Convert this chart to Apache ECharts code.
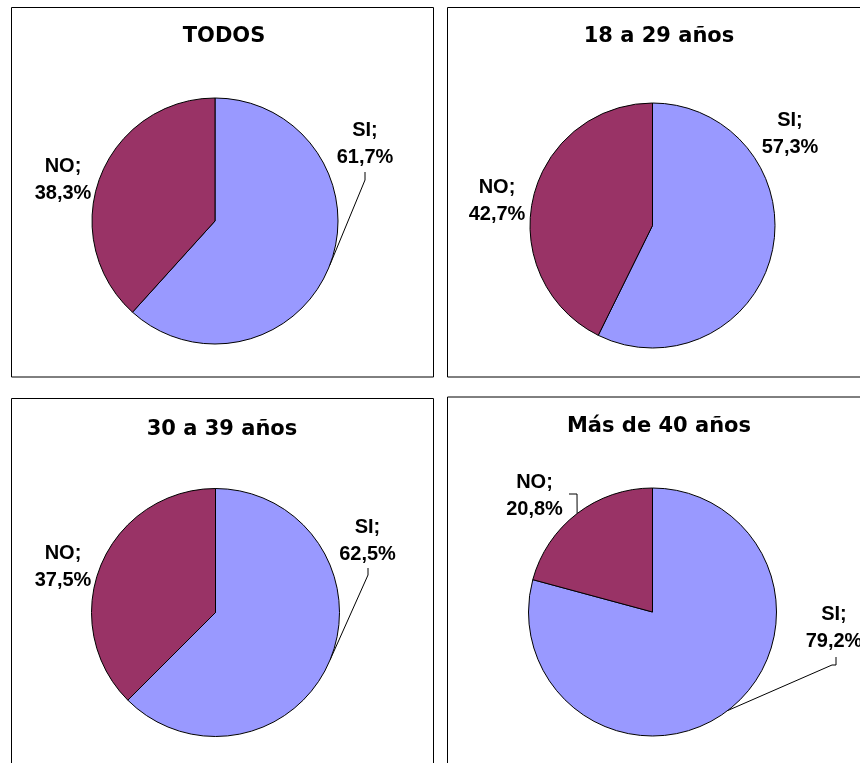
<!DOCTYPE html>
<html>
<head>
<meta charset="utf-8">
<script src="https://cdn.jsdelivr.net/npm/echarts@6/dist/echarts.min.js"></script>
<style>
  html, body { margin: 0; padding: 0; background: #ffffff; }
  #chart { width: 860px; height: 763px; }
</style>
</head>
<body>
<div id="chart"></div>
<script>
// Survey answers (percent) for each age group
const groups = ['TODOS', '18 a 29 años', '30 a 39 años', 'Más de 40 años'];
const answers = ['SI', 'NO'];
const siValues = [61.7, 57.3, 62.5, 79.2];
const noValues = [38.3, 42.7, 37.5, 20.8];

const answerColors = { SI: '#9999FF', NO: '#993366' };

// Panel layout: frame, pie placement, title anchor and label anchors.
// "hook" lists the bend points of a leader line, ending at the label.
const panels = [
  {
    box: [11.5, 7.5, 422, 369.5], center: [215, 221], radius: 123, title: [224, 36.5],
    labels: {
      SI: { pos: [365, 143.5], hook: [[365, 180], [365, 172]] },
      NO: { pos: [63, 179.5], hook: null }
    }
  },
  {
    box: [447.5, 7.5, 430, 369.5], center: [652.5, 225.5], radius: 122.5, title: [659, 36.5],
    labels: {
      SI: { pos: [790, 134], hook: null },
      NO: { pos: [497, 201], hook: null }
    }
  },
  {
    box: [11.5, 398.5, 422, 400], center: [215.5, 612.5], radius: 124, title: [222, 429.5],
    labels: {
      SI: { pos: [367.5, 540.5], hook: [[368, 575], [368, 568]] },
      NO: { pos: [63, 567], hook: null }
    }
  },
  {
    box: [447.5, 397, 430, 400], center: [652.5, 612], radius: 124, title: [659, 426.5],
    labels: {
      SI: { pos: [834, 627.5], hook: [[832, 665], [836, 665], [836, 657]] },
      NO: { pos: [534.5, 496], hook: [[577, 494], [569, 494]] }
    }
  }
];

const valuesByAnswer = { SI: siValues, NO: noValues };

function pct(v) {
  return v.toFixed(1).replace('.', ',') + '%';
}

const chart = echarts.init(document.getElementById('chart'), null, { renderer: 'canvas' });

const titles = panels.map((p, i) => ({
  text: groups[i],
  left: p.title[0],
  top: p.title[1] - 12,
  textAlign: 'center',
  padding: 0,
  textStyle: {
    fontFamily: 'DejaVu Sans',
    fontWeight: 'bold',
    fontSize: 21,
    color: '#000000',
    lineHeight: 24
  }
}));

const frames = panels.map(p => ({
  type: 'rect',
  silent: true,
  z: -1,
  shape: { x: p.box[0], y: p.box[1], width: p.box[2], height: p.box[3] },
  style: { fill: '#ffffff', stroke: '#000000', lineWidth: 1 }
}));

const series = panels.map((p, i) => ({
  type: 'pie',
  name: groups[i],
  center: p.center,
  radius: p.radius,
  startAngle: 90,
  clockwise: true,
  avoidLabelOverlap: false,
  animation: false,
  silent: true,
  itemStyle: { borderColor: '#000000', borderWidth: 1 },
  emphasis: { disabled: true },
  label: {
    show: true,
    position: 'outside',
    formatter: params => params.name + ';\n' + pct(params.value),
    fontFamily: 'Liberation Sans',
    fontWeight: 'bold',
    fontSize: 20,
    lineHeight: 27,
    color: '#000000'
  },
  labelLine: {
    show: true,
    length: 6,
    length2: 6,
    smooth: false,
    lineStyle: { color: '#000000', width: 1 }
  },
  data: answers.map(a => ({
    name: a,
    value: valuesByAnswer[a][i],
    itemStyle: { color: answerColors[a] },
    labelLine: { show: !!p.labels[a].hook }
  })),
  labelLayout: params => {
    const a = answers[params.dataIndex];
    const spec = panels[params.seriesIndex].labels[a];
    const out = {
      x: spec.pos[0],
      y: spec.pos[1],
      align: 'center',
      verticalAlign: 'middle'
    };
    if (spec.hook && params.labelLinePoints) {
      // start at the slice's mid-arc point computed by the pie layout
      out.labelLinePoints = [params.labelLinePoints[0]].concat(spec.hook);
    }
    return out;
  }
}));

chart.setOption({
  backgroundColor: '#ffffff',
  animation: false,
  title: titles,
  graphic: frames,
  series: series
});
</script>
</body>
</html>
